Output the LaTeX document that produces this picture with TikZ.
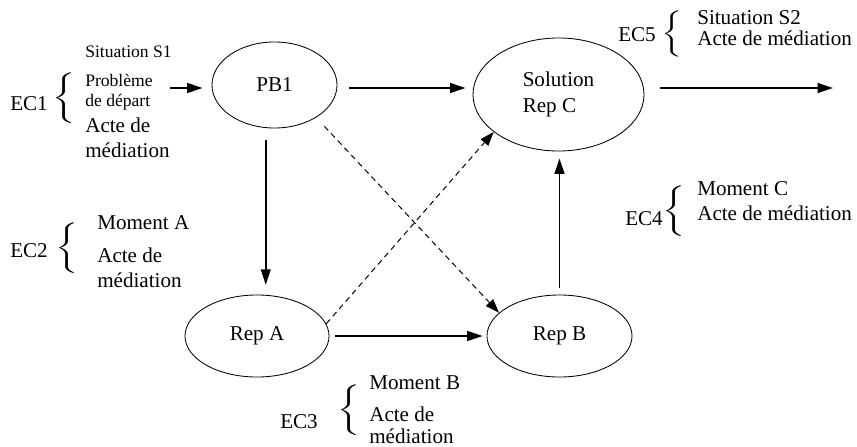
\documentclass[tikz,border=0pt]{standalone}
\usepackage{amsmath}
\usepackage{graphicx}
\usepackage{fontspec}
\setmainfont{Liberation Serif}
\usetikzlibrary{shapes.geometric,arrows.meta,calc}

\newcommand{\ecbrace}[1]{\scalebox{1.7}[1]{$\delimiterfactor=1000\delimitershortfall=0pt\left\{\vcenter{\hbox{\rule{0pt}{#1}}}\right.$}}

\tikzset{
  repnode/.style={ellipse, draw, line width=0.6pt, inner sep=0pt, font=\fontsize{15}{18.4}\selectfont},
  fleche/.style={line width=1.2pt, -{Triangle[length=11pt,width=7pt]}},
  pointille/.style={line width=0.7pt, dash pattern=on 4pt off 3pt, -{Triangle[length=10pt,width=7pt]}},
  lbl/.style={font=\fontsize{15}{18}\selectfont, inner sep=0pt, anchor=base west},
  petit/.style={font=\fontsize{12.5}{15}\selectfont, inner sep=0pt, anchor=base west},
  accolade/.style={font=\fontsize{12.5}{15}\selectfont, inner sep=0pt}
}

\begin{document}
\begin{tikzpicture}[x=0.025cm, y=-0.025cm]
    \useasboundingbox (0,0) rectangle (857,447);

    % States
    \node[repnode, minimum width=3.125cm, minimum height=2.15cm] (PB1) at (274.5,85) {PB1};
    \node[repnode, minimum width=4.275cm, minimum height=2.825cm, align=left] (Sol) at (558.5,94.5) {Solution\\Rep C\hspace{10pt}};
    \node[repnode, minimum width=3.6cm, minimum height=2.05cm] (RepA) at (257,336) {Rep A};
    \node[repnode, minimum width=3.625cm, minimum height=2.05cm] (RepB) at (559.5,336) {Rep B};

    % Free ends
    \coordinate (start) at (170,88);
    \coordinate (finish) at (833,88);
    \coordinate (mid) at ($(PB1.south)!.5!(RepA.north)$);

    % Solid arrows
    \draw[fleche, shorten >=6.4pt] (start) -- (start -| PB1.west);
    \draw[fleche, shorten <=8.5pt, shorten >=5pt] (PB1.east |- start) -- (Sol.west |- start);
    \draw[fleche, shorten <=11.3pt] (Sol.east |- finish) -- (finish);
    \draw[fleche, shorten <=8.5pt, shorten >=7pt] (mid |- PB1.south) -- (mid |- RepA.north);
    \draw[fleche, shorten <=4.3pt, shorten >=2.8pt] (RepA.east) -- (RepB.west);
    \draw[fleche, shorten <=5pt, shorten >=5pt] (RepB.north) -- (RepB.north |- Sol.south);

    % Dashed arrows
    \draw[pointille, shorten <=8.5pt] (PB1.-38) -- (RepB.159);
    \draw[pointille] (RepA.10) -- (Sol.210);

    % EC1
    \node[lbl] (ec1) at (10,110) {EC1};
    \node[accolade] (b1) at (65,98.5) {\ecbrace{36pt}};
    \node[petit] (s1) at (85,58) {Situation S1};
    \node[petit] (p1) at (85,87) {Problème};
    \node[petit] (d1) at (85,106) {de départ};
    \node[lbl] (a1) at (85,132) {Acte de};
    \node[lbl] (m1) at (85,157) {médiation};

    % EC2
    \node[lbl] (ec2) at (10,257) {EC2};
    \node[accolade] (b2) at (68.5,248.5) {\ecbrace{36pt}};
    \node[lbl] (s2) at (97,229) {Moment A};
    \node[lbl] (a2) at (97,262) {Acte de};
    \node[lbl] (m2) at (97,287) {médiation};

    % EC3
    \node[lbl] (ec3) at (280,428) {EC3};
    \node[accolade] (b3) at (350.5,410) {\ecbrace{36pt}};
    \node[lbl] (s3) at (369,389) {Moment B};
    \node[lbl] (a3) at (369,421) {Acte de};
    \node[lbl] (m3) at (369,443) {médiation};

    % EC4
    \node[lbl] (ec4) at (625,225) {EC4};
    \node[accolade] (b4) at (675,211) {\ecbrace{36pt}};
    \node[lbl] (s4) at (697,195) {Moment C};
    \node[lbl] (a4) at (697,220) {Acte de médiation};

    % EC5
    \node[lbl] (ec5) at (618,42) {EC5};
    \node[accolade, font=\fontsize{10.5}{13}\selectfont] (b5) at (673.5,34) {\ecbrace{30pt}};
    \node[lbl] (s5) at (697,25) {Situation S2};
    \node[lbl] (a5) at (697,45) {Acte de médiation};
\end{tikzpicture}
\end{document}
